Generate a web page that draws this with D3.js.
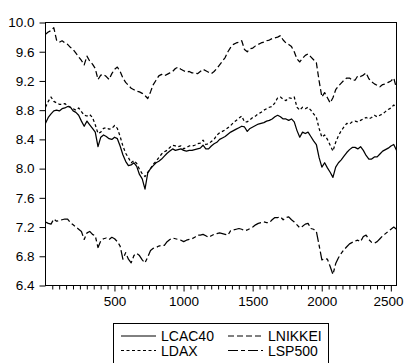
<!DOCTYPE html>
<html>
<head>
<meta charset="utf-8">
<script src="https://cdn.jsdelivr.net/npm/d3@7"></script>
<style>
  body { margin: 0; background: #fff; }
  text { font-family: "Liberation Sans", Arial, sans-serif; fill: #000; }
</style>
</head>
<body>
<svg id="chart" width="404" height="363"></svg>
<script>
// Observation index (every 20th trading day)
const obs = d3.range(1, 2542, 20);

// Log index levels
const lcac40 = [
  8.62, 8.70, 8.75, 8.79, 8.80, 8.79, 8.82, 8.83, 8.85, 8.84,
  8.79, 8.77, 8.73, 8.65, 8.58, 8.65, 8.60, 8.55, 8.50, 8.30,
  8.43, 8.46, 8.44, 8.41, 8.40, 8.43, 8.41, 8.31, 8.19, 8.10,
  8.04, 8.05, 8.08, 8.03, 7.92, 7.86, 7.72, 7.94, 8.00, 8.04,
  8.08, 8.10, 8.13, 8.17, 8.21, 8.24, 8.27, 8.25, 8.26, 8.27,
  8.25, 8.24, 8.25, 8.25, 8.26, 8.27, 8.28, 8.32, 8.27, 8.27,
  8.31, 8.34, 8.36, 8.40, 8.42, 8.44, 8.47, 8.50, 8.52, 8.54,
  8.56, 8.58, 8.57, 8.51, 8.55, 8.57, 8.59, 8.61, 8.62, 8.63,
  8.65, 8.66, 8.68, 8.71, 8.73, 8.71, 8.68, 8.68, 8.66, 8.68,
  8.64, 8.52, 8.43, 8.50, 8.48, 8.50, 8.44, 8.38, 8.33, 8.15,
  8.02, 8.08, 8.01, 7.95, 7.88, 8.02, 8.08, 8.12, 8.17, 8.22,
  8.26, 8.29, 8.29, 8.27, 8.30, 8.25, 8.18, 8.13, 8.13, 8.16,
  8.16, 8.20, 8.24, 8.26, 8.28, 8.31, 8.33, 8.25
];
const lnikkei = [
  9.84, 9.87, 9.89, 9.93, 9.76, 9.73, 9.75, 9.72, 9.70, 9.66,
  9.63, 9.58, 9.53, 9.48, 9.42, 9.54, 9.47, 9.43, 9.37, 9.22,
  9.28, 9.29, 9.26, 9.22, 9.30, 9.36, 9.39, 9.33, 9.24, 9.18,
  9.14, 9.10, 9.08, 9.06, 9.05, 9.03, 9.00, 8.96, 9.05, 9.15,
  9.21, 9.27, 9.29, 9.27, 9.29, 9.31, 9.33, 9.37, 9.39, 9.36,
  9.34, 9.32, 9.33, 9.31, 9.31, 9.30, 9.33, 9.36, 9.34, 9.32,
  9.30, 9.33, 9.37, 9.42, 9.47, 9.52, 9.60, 9.66, 9.70, 9.72,
  9.73, 9.75, 9.63, 9.60, 9.64, 9.65, 9.68, 9.70, 9.72, 9.73,
  9.75, 9.76, 9.78, 9.79, 9.80, 9.82, 9.76, 9.72, 9.70, 9.67,
  9.60, 9.50, 9.46, 9.51, 9.55, 9.57, 9.53, 9.49, 9.45, 9.20,
  8.98, 9.04, 8.97, 8.90, 8.97, 9.08, 9.13, 9.17, 9.21, 9.24,
  9.24, 9.21, 9.21, 9.27, 9.26, 9.28, 9.31, 9.23, 9.19, 9.16,
  9.14, 9.12, 9.15, 9.16, 9.18, 9.20, 9.24, 9.10
];
const ldax = [
  8.84, 8.92, 8.98, 8.92, 8.90, 8.88, 8.88, 8.89, 8.86, 8.84,
  8.82, 8.80, 8.83, 8.78, 8.73, 8.72, 8.74, 8.70, 8.60, 8.48,
  8.50, 8.55, 8.56, 8.54, 8.55, 8.59, 8.55, 8.44, 8.31, 8.21,
  8.15, 8.08, 8.11, 8.07, 7.99, 7.93, 7.89, 7.95, 8.00, 8.06,
  8.10, 8.15, 8.20, 8.23, 8.25, 8.29, 8.32, 8.31, 8.30, 8.31,
  8.27, 8.29, 8.31, 8.31, 8.32, 8.34, 8.35, 8.39, 8.33, 8.34,
  8.37, 8.40, 8.46, 8.49, 8.51, 8.53, 8.56, 8.59, 8.63, 8.66,
  8.69, 8.72, 8.64, 8.64, 8.67, 8.70, 8.72, 8.75, 8.77, 8.80,
  8.82, 8.84, 8.85, 8.90, 8.97, 8.98, 8.95, 8.93, 8.97, 8.96,
  8.98, 8.84, 8.80, 8.84, 8.82, 8.84, 8.80, 8.75, 8.70, 8.55,
  8.43, 8.46, 8.40, 8.32, 8.24, 8.36, 8.45, 8.52, 8.57, 8.62,
  8.61, 8.64, 8.65, 8.64, 8.66, 8.68, 8.70, 8.68, 8.70, 8.73,
  8.71, 8.73, 8.75, 8.78, 8.81, 8.83, 8.87, 8.84
];
const lsp500 = [
  7.27, 7.25, 7.24, 7.31, 7.28, 7.29, 7.30, 7.31, 7.31, 7.26,
  7.23, 7.20, 7.17, 7.14, 7.03, 7.12, 7.14, 7.10, 7.08, 6.92,
  7.01, 7.04, 7.05, 7.03, 7.06, 7.04, 7.00, 6.94, 6.76, 6.85,
  6.76, 6.71, 6.81, 6.84, 6.81, 6.75, 6.71, 6.79, 6.88, 6.91,
  6.92, 6.94, 6.95, 6.95, 7.00, 7.03, 7.05, 7.04, 7.03, 7.02,
  7.00, 7.02, 7.03, 7.04, 7.06, 7.09, 7.09, 7.10, 7.08, 7.06,
  7.08, 7.10, 7.11, 7.12, 7.11, 7.10, 7.09, 7.15, 7.16, 7.17,
  7.18, 7.17, 7.15, 7.16, 7.18, 7.20, 7.23, 7.25, 7.26, 7.27,
  7.26, 7.26, 7.30, 7.33, 7.33, 7.34, 7.30, 7.33, 7.34, 7.30,
  7.27, 7.23, 7.19, 7.21, 7.24, 7.25, 7.18, 7.17, 7.14, 6.95,
  6.75, 6.77, 6.76, 6.66, 6.55, 6.70, 6.78, 6.84, 6.89, 6.93,
  6.97, 6.99, 7.01, 7.02, 7.00, 7.07, 7.09, 7.03, 6.99, 6.98,
  7.00, 7.04, 7.08, 7.11, 7.14, 7.17, 7.20, 7.17
];

const seriesNames = ["LCAC40", "LNIKKEI", "LDAX", "LSP500"];
const yTicks = [6.4, 6.8, 7.2, 7.6, 8.0, 8.4, 8.8, 9.2, 9.6, 10.0];
const xLabelTicks = [500, 1000, 1500, 2000, 2500];
const xMinorTicks = d3.range(50, 2541, 50);

const series = [
  { name: seriesNames[0], values: lcac40,  dash: null },
  { name: seriesNames[1], values: lnikkei, dash: "6,3" },
  { name: seriesNames[2], values: ldax,    dash: "3,2.5" },
  { name: seriesNames[3], values: lsp500,  dash: "10,3,4,3" }
];

const W = 404;
const svg = d3.select("#chart");
const L = 45.5, R = 396.5, T = 22.5, B = 285.5;

const x = d3.scaleLinear().domain([1, 2541]).range([L, R]);
const y = d3.scaleLinear().domain([6.4, 10.0]).range([B, T]);

svg.append("defs").append("clipPath").attr("id", "plotClip")
  .append("rect").attr("x", L).attr("y", T).attr("width", R - L).attr("height", B - T);

// Series lines
const line = d3.line().x((d, i) => x(obs[i])).y(d => y(d));
const plot = svg.append("g").attr("clip-path", "url(#plotClip)");
series.forEach(s => {
  plot.append("path")
    .datum(s.values)
    .attr("d", line)
    .attr("fill", "none")
    .attr("stroke", "#000")
    .attr("stroke-width", 1.25)
    .attr("stroke-linejoin", "round")
    .attr("stroke-dasharray", s.dash);
});

// Left axis
const yAxis = svg.append("g")
  .attr("transform", `translate(${L},0)`)
  .call(d3.axisLeft(y).tickValues(yTicks).tickFormat(d3.format(".1f"))
    .tickSize(6).tickPadding(5));
yAxis.select(".domain").remove();
yAxis.selectAll("text").style("font-size", "13.5px").attr("font-family", null);
yAxis.selectAll("line").attr("stroke", "#000");

// Bottom axis with minor ticks every 50 observations
const xAxis = svg.append("g")
  .attr("transform", `translate(0,${B})`)
  .call(d3.axisBottom(x).tickValues(xMinorTicks)
    .tickFormat(d => xLabelTicks.includes(d) ? d : "")
    .tickSize(4).tickPadding(7));
xAxis.select(".domain").remove();
xAxis.selectAll(".tick line").attr("stroke", "#000")
  .attr("y2", d => xLabelTicks.includes(d) ? 6 : 4);
xAxis.selectAll("text").style("font-size", "13.5px").attr("font-family", null);

// Keep the last tick label inside the page
xAxis.selectAll(".tick text").each(function (d) {
  const t = d3.select(this);
  const bb = this.getBBox();
  const right = x(d) + bb.x + bb.width;
  if (right > W - 1) t.attr("x", (W - 1) - right);
});

// Frame
svg.append("rect")
  .attr("x", L).attr("y", T).attr("width", R - L).attr("height", B - T)
  .attr("fill", "none").attr("stroke", "#000").attr("stroke-width", 1);

// Legend
const lg = svg.append("g");
lg.append("rect").attr("x", 113.5).attr("y", 323.5).attr("width", 215).attr("height", 46)
  .attr("fill", "#fff").attr("stroke", "#000");
const legendPos = [
  { x: 121, y: 336, tx: 161 },
  { x: 228, y: 336, tx: 268 },
  { x: 121, y: 350.5, tx: 161 },
  { x: 228, y: 350.5, tx: 268 }
];
series.forEach((s, i) => {
  const p = legendPos[i];
  lg.append("line")
    .attr("x1", p.x).attr("x2", p.x + 35).attr("y1", p.y).attr("y2", p.y)
    .attr("stroke", "#000").attr("stroke-width", 1)
    .attr("stroke-dasharray", s.dash);
  lg.append("text")
    .attr("x", p.tx).attr("y", p.y + 5)
    .style("font-size", "14px")
    .text(s.name);
});
</script>
</body>
</html>
